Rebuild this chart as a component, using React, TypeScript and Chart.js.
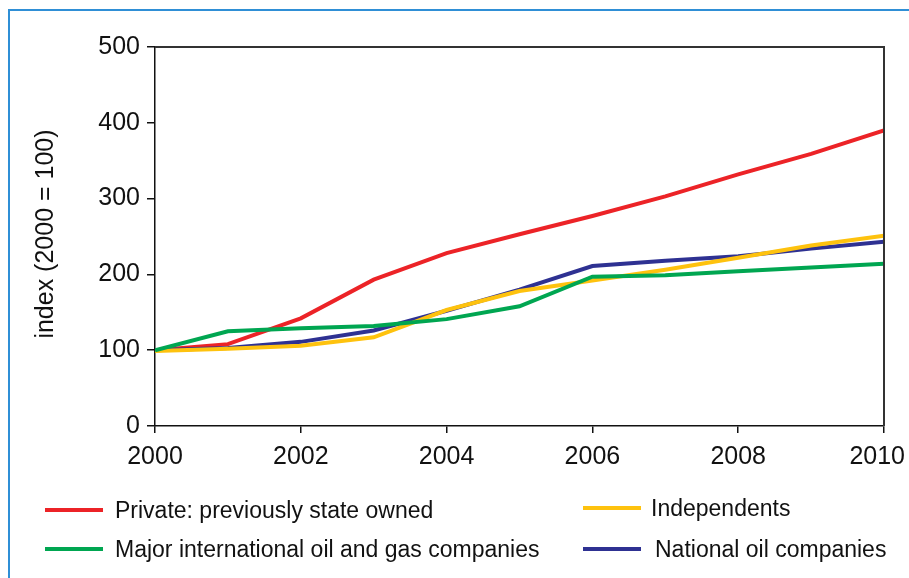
import React, { useEffect, useRef } from "react";
import { Chart, registerables } from "chart.js";

Chart.register(...registerables);

const years = [2000, 2001, 2002, 2003, 2004, 2005, 2006, 2007, 2008, 2009, 2010];
const privatePrevState = [100, 108, 142, 193, 228, 253, 277, 303, 332, 359, 390];
const independents = [99, 102, 106, 117, 153, 178, 192, 206, 222, 238, 251];
const majorIntl = [100, 125, 129, 132, 141, 158, 197, 199, 204, 209, 214];
const nationalOil = [100, 103, 111, 126, 152, 180, 211, 218, 224, 234, 243];
const xTicks = [2000, 2002, 2004, 2006, 2008, 2010];
const yTicks = [0, 100, 200, 300, 400, 500];

const RED = "#ec2327";
const YELLOW = "#fec20e";
const GREEN = "#00a651";
const BLUE = "#2e3192";
const FONT = "'Liberation Sans', Arial, sans-serif";

const framePlugin = {
  id: "frame",
  afterDraw(chart: any) {
    const { ctx, chartArea } = chart;
    ctx.save();
    ctx.strokeStyle = "#333";
    ctx.lineWidth = 2;
    ctx.beginPath();
    ctx.moveTo(chartArea.left, chartArea.top);
    ctx.lineTo(chartArea.right, chartArea.top);
    ctx.lineTo(chartArea.right, chartArea.bottom);
    ctx.stroke();

    // x tick labels, kept inside the canvas
    const xs = chart.scales.x;
    ctx.fillStyle = "#111";
    ctx.font = `25px ${FONT}`;
    ctx.textBaseline = "alphabetic";
    ctx.textAlign = "left";
    xTicks.forEach((v) => {
      const label = String(v);
      const w = ctx.measureText(label).width;
      const px = xs.getPixelForValue(v);
      let left = px - w / 2;
      if (left + w > chart.width - 4) left = chart.width - 4 - w;
      ctx.fillText(label, left, chartArea.bottom + 38);
    });

    // y-axis title
    ctx.font = `25px ${FONT}`;
    ctx.textAlign = "center";
    ctx.textBaseline = "middle";
    ctx.translate(46, 234);
    ctx.rotate(-Math.PI / 2);
    ctx.fillText("index (2000 = 100)", 0, 0);
    ctx.restore();
  },
};

export default function App() {
  const ref = useRef<HTMLCanvasElement>(null);
  useEffect(() => {
    if (!ref.current) return;
    const mk = (label: string, data: number[], color: string) => ({
      label,
      data: years.map((y, i) => ({ x: y, y: data[i] })),
      borderColor: color,
      backgroundColor: color,
      borderWidth: 4,
      pointRadius: 0,
      tension: 0,
    });
    const chart = new Chart(ref.current, {
      type: "line",
      data: {
        datasets: [
          mk("Major international oil and gas companies", majorIntl, GREEN),
          mk("Independents", independents, YELLOW),
          mk("National oil companies", nationalOil, BLUE),
          mk("Private: previously state owned", privatePrevState, RED),
        ],
      },
      plugins: [framePlugin],
      options: {
        animation: false,
        responsive: false,
        layout: { padding: { top: 47, right: 25, left: 0, bottom: 0 } },
        plugins: { legend: { display: false }, tooltip: { enabled: false } },
        scales: {
          x: {
            type: "linear",
            min: 2000,
            max: 2010,
            afterFit(scale: any) {
              scale.height = 152;
              scale.paddingRight = 0;
              scale.paddingLeft = 0;
            },
            afterBuildTicks(scale: any) {
              scale.ticks = xTicks.map((v) => ({ value: v }));
            },
            border: { display: true, color: "#111", width: 1.5 },
            grid: { display: true, drawOnChartArea: false, drawTicks: true, tickLength: 7, color: "#111", lineWidth: 1.5 },
            ticks: { display: false },
          },
          y: {
            min: 0,
            max: 500,
            afterFit(scale: any) {
              scale.width = 155;
              scale.paddingTop = 0;
              scale.paddingBottom = 0;
            },
            afterBuildTicks(scale: any) {
              scale.ticks = yTicks.map((v) => ({ value: v }));
            },
            border: { display: true, color: "#111", width: 1.5 },
            grid: { display: true, drawOnChartArea: false, drawTicks: true, tickLength: 8, color: "#111", lineWidth: 1.5 },
            ticks: {
              color: "#111",
              font: { family: FONT, size: 25 },
              padding: 7,
            },
          },
        },
      },
    });
    return () => chart.destroy();
  }, []);

  const legendItem = (color: string, text: string, left: number, top: number, textLeft: number) => (
    <div key={text}>
      <div style={{ position: "absolute", left, top: top - 2, width: 58, height: 4, background: color }} />
      <div
        style={{
          position: "absolute",
          left: textLeft,
          top: top - 15,
          fontFamily: FONT,
          fontSize: 23,
          lineHeight: "30px",
          color: "#111",
          whiteSpace: "nowrap",
        }}
      >
        {text}
      </div>
    </div>
  );

  return (
    <div style={{ position: "fixed", left: 0, top: 0, width: 909, height: 578, background: "#fff", overflow: "hidden" }}>
      <div
        style={{
          position: "absolute",
          left: 8,
          top: 9,
          width: 920,
          height: 600,
          borderTop: "2px solid #2f8fd6",
          borderLeft: "2px solid #2f8fd6",
        }}
      />
      <canvas ref={ref} width={909} height={578} style={{ position: "absolute", left: 0, top: 0 }} />
      {legendItem(RED, "Private: previously state owned", 45, 510, 115)}
      {legendItem(YELLOW, "Independents", 583, 508, 651)}
      {legendItem(GREEN, "Major international oil and gas companies", 45, 549, 115)}
      {legendItem(BLUE, "National oil companies", 583, 549, 655)}
    </div>
  );
}
